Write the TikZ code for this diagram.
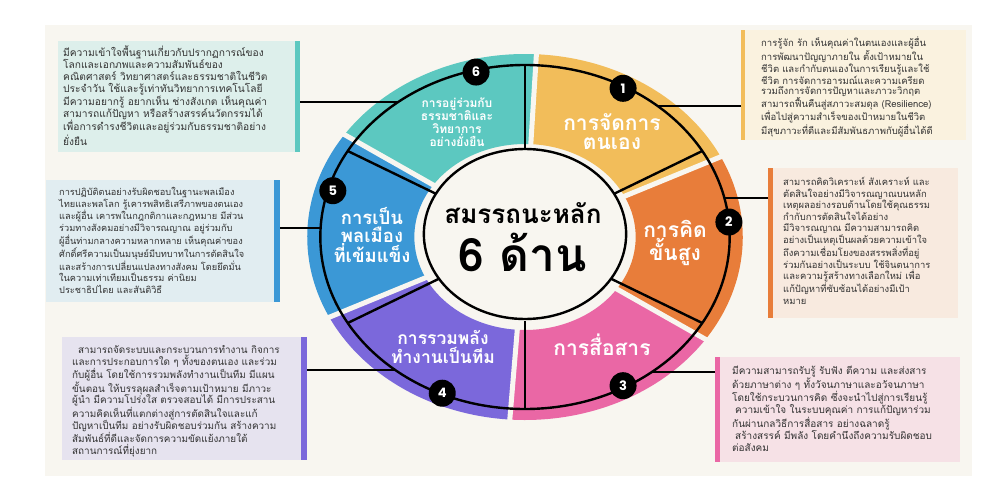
\documentclass[tikz,border=0pt]{standalone}
\usepackage{fontspec}
\newfontfamily\thai[Script=Thai]{Loma}
\newfontfamily\numfont{Poppins}
\definecolor{bgp}{HTML}{F8F6F0}
\definecolor{txtc}{HTML}{333333}
\definecolor{cteal}{HTML}{5CC8C0}
\definecolor{cyel}{HTML}{F2BD5A}
\definecolor{corg}{HTML}{E87D3A}
\definecolor{cpink}{HTML}{EA67A5}
\definecolor{cpur}{HTML}{7B68DB}
\definecolor{cblue}{HTML}{3B98D6}
\definecolor{lteal}{HTML}{DDEFEB}
\definecolor{lyel}{HTML}{FAF2DF}
\definecolor{lorg}{HTML}{F8EADF}
\definecolor{lpink}{HTML}{F6E1E6}
\definecolor{lpur}{HTML}{E6E3EF}
\definecolor{lblue}{HTML}{E1EDF1}
\begin{document}
\begin{tikzpicture}[x=1pt,y=-1pt,
  boxbg/.style={draw=none, inner sep=0, anchor=north west},
  boxtxt/.style={anchor=north west, inner sep=0, align=left, text=txtc},
  seglabel/.style={align=center, text=white, inner sep=0},
  blk/.style={draw=black, line width=2.4pt},
  conn/.style={draw=black, line width=1.8pt},
  gapline/.style={draw=bgp, line width=5pt},
  badge/.style={circle, fill=black, text=white, inner sep=0, minimum size=27pt, font=\numfont\bfseries\fontsize{13}{13}\selectfont}
]
\useasboundingbox (0,0) rectangle (1000,500);
\fill[white] (0,0) rectangle (1000,500);
\fill[bgp] (45,25) rectangle (972,476);

% ---------- text boxes ----------
\node[boxbg, fill=lteal, minimum width=242pt, minimum height=111pt] (b6) at (58,41) {};
\fill[cteal] (b6.north east) rectangle ([xshift=-5pt]b6.south east);
\node[boxbg, fill=lyel, minimum width=225pt, minimum height=110pt] (b1) at (741,30) {};
\fill[cyel] (b1.north west) rectangle ([xshift=4pt]b1.south west);
\node[boxbg, fill=lblue, minimum width=234pt, minimum height=122pt] (b5) at (46,180) {};
\fill[cblue] (b5.north east) rectangle ([xshift=-6pt]b5.south east);
\node[boxbg, fill=lorg, minimum width=190pt, minimum height=150pt] (b2) at (768,168) {};
\fill[corg] (b2.north west) rectangle ([xshift=5pt]b2.south west);
\node[boxbg, fill=lpur, minimum width=245pt, minimum height=123pt] (b4) at (62,337) {};
\fill[cpur] (b4.north east) rectangle ([xshift=-6pt]b4.south east);
\node[boxbg, fill=lpink, minimum width=245pt, minimum height=105pt] (b3) at (715,357) {};
\fill[cpink] (b3.north west) rectangle ([xshift=5pt]b3.south west);

\node[boxtxt, font=\thai\fontsize{10.2}{12}\selectfont] (t6) at (63,45) {มีความเข้าใจพื้นฐานเกี่ยวกับปรากฏการณ์ของ\\
โลกและเอกภพและความสัมพันธ์ของ\\
คณิตศาสตร์ วิทยาศาสตร์และธรรมชาติในชีวิต\\
ประจำวัน ใช้และรู้เท่าทันวิทยาการเทคโนโลยี\\
มีความอยากรู้ อยากเห็น ช่างสังเกต เห็นคุณค่า\\
สามารถแก้ปัญหา หรือสร้างสรรค์นวัตกรรมได้\\
เพื่อการดำรงชีวิตและอยู่ร่วมกับธรรมชาติอย่าง\\
ยั่งยืน};

\node[boxtxt, font=\thai\fontsize{9.5}{10.4}\selectfont] (t1) at (761,37) {การรู้จัก รัก เห็นคุณค่าในตนเองและผู้อื่น\\
การพัฒนาปัญญาภายใน ตั้งเป้าหมายใน\\
ชีวิต และกำกับตนเองในการเรียนรู้และใช้\\
ชีวิต การจัดการอารมณ์และความเครียด\\
รวมถึงการจัดการปัญหาและภาวะวิกฤต\\
สามารถฟื้นคืนสู่สภาวะสมดุล (Resilience)\\
เพื่อไปสู่ความสำเร็จของเป้าหมายในชีวิต\\
มีสุขภาวะที่ดีและมีสัมพันธภาพกับผู้อื่นได้ดี};

\node[boxtxt, font=\thai\fontsize{9.2}{11.6}\selectfont] (t5) at (59,187) {การปฏิบัติตนอย่างรับผิดชอบในฐานะพลเมือง\\
ไทยและพลโลก รู้เคารพสิทธิเสรีภาพของตนเอง\\
และผู้อื่น เคารพในกฎกติกาและกฎหมาย มีส่วน\\
ร่วมทางสังคมอย่างมีวิจารณญาณ อยู่ร่วมกับ\\
ผู้อื่นท่ามกลางความหลากหลาย เห็นคุณค่าของ\\
ศักดิ์ศรีความเป็นมนุษย์มีบทบาทในการตัดสินใจ\\
และสร้างการเปลี่ยนแปลงทางสังคม โดยยึดมั่น\\
ในความเท่าเทียมเป็นธรรม ค่านิยม\\
ประชาธิปไตย และสันติวิธี};

\node[boxtxt, font=\thai\fontsize{9.4}{11.6}\selectfont] (t2) at (783,177) {สามารถคิดวิเคราะห์ สังเคราะห์ และ\\
ตัดสินใจอย่างมีวิจารณญาณบนหลัก\\
เหตุผลอย่างรอบด้านโดยใช้คุณธรรม\\
กำกับการตัดสินใจได้อย่าง\\
มีวิจารณญาณ มีความสามารถคิด\\
อย่างเป็นเหตุเป็นผลด้วยความเข้าใจ\\
ถึงความเชื่อมโยงของสรรพสิ่งที่อยู่\\
ร่วมกันอย่างเป็นระบบ ใช้จินตนาการ\\
และความรู้สร้างทางเลือกใหม่ เพื่อ\\
แก้ปัญหาที่ซับซ้อนได้อย่างมีเป้า\\
หมาย};

\node[boxtxt, font=\thai\fontsize{9.9}{11.75}\selectfont] (t4) at (72,345) {\hspace*{6pt}สามารถจัดระบบและกระบวนการทำงาน กิจการ\\
และการประกอบการใด ๆ ทั้งของตนเอง และร่วม\\
กับผู้อื่น โดยใช้การรวมพลังทำงานเป็นทีม มีแผน\\
ขั้นตอน ให้บรรลุผลสำเร็จตามเป้าหมาย มีภาวะ\\
ผู้นำ มีความโปร่งใส ตรวจสอบได้ มีการประสาน\\
ความคิดเห็นที่แตกต่างสู่การตัดสินใจและแก้\\
ปัญหาเป็นทีม อย่างรับผิดชอบร่วมกัน สร้างความ\\
สัมพันธ์ที่ดีและจัดการความขัดแย้งภายใต้\\
สถานการณ์ที่ยุ่งยาก};

\node[boxtxt, font=\thai\fontsize{10}{11.8}\selectfont] (t3) at (732,366) {มีความสามารถรับรู้ รับฟัง ตีความ และส่งสาร\\
ด้วยภาษาต่าง ๆ ทั้งวัจนภาษาและอวัจนภาษา\\
โดยใช้กระบวนการคิด ซึ่งจะนำไปสู่การเรียนรู้\\
\hspace*{3pt}ความเข้าใจ ในระบบคุณค่า การแก้ปัญหาร่วม\\
กันผ่านกลวิธีการสื่อสาร อย่างฉลาดรู้\\
\hspace*{3pt}สร้างสรรค์ มีพลัง โดยคำนึงถึงความรับผิดชอบ\\
ต่อสังคม};

% ---------- wheel ----------
\begin{scope}[shift={(525,237)}, xscale=1.19]
  \foreach \a/\b/\c in {-87/-26/cyel, -26/34/corg, 34/94/cpink, 94/154/cpur, 154/214/cblue, 214/273/cteal}{
    \fill[\c] (\a:93) arc[start angle=\a, end angle=\b, radius=93] -- (\b:183)
      arc[start angle=\b, end angle=\a, radius=183] -- cycle;
  }
  \foreach \a in {-87,-26,34,94,154,214}{
    \draw[gapline] (\a:92) -- (\a:186);
  }
  \coordinate (e6) at (231.7:172);
  \coordinate (e1) at (-49.6:172);
  \coordinate (e5) at (183:172);
  \coordinate (e2) at (-13.1:172);
  \coordinate (e4) at (129.4:172);
  \coordinate (e3) at (51.7:172);
  \draw[blk] (0,0) circle[radius=172];
  \foreach \a in {-90,-30,30,90,150,210}{
    \draw[blk] (\a:84) -- (\a:172);
  }
  \filldraw[fill=bgp, draw=black, line width=2.4pt] (0,-3) circle[radius=85];
  \node[badge] (n6) at (-104:170) {6};
  \node[badge] (n1) at (-61:170) {1};
  \node[badge] (n2) at (-5:172) {2};
  \node[badge] (n3) at (61:170) {3};
  \node[badge] (n4) at (114:171) {4};
  \node[badge] (n5) at (196:168) {5};
\end{scope}

% ---------- connectors ----------
\draw[conn] (b6.east |- e6) -- (e6);
\draw[conn] (b1.west |- e1) -- (e1);
\draw[conn] (b5.east |- e5) -- (e5);
\draw[conn] (b2.west |- e2) -- (e2);
\draw[conn] (b4.east |- e4) -- (e4);
\draw[conn] (b3.west |- e3) -- (e3);

% ---------- labels ----------
\node[seglabel, font=\thai\bfseries\fontsize{21}{19}\selectfont] (l1) at (612,132) {การจัดการ\\ตนเอง};
\node[seglabel, font=\thai\bfseries\fontsize{21}{20}\selectfont] (l2) at (675,243) {การคิด\\ขั้นสูง};
\node[seglabel, font=\thai\bfseries\fontsize{21}{20}\selectfont] (l3) at (602,345) {การสื่อสาร};
\node[seglabel, font=\thai\bfseries\fontsize{17.5}{19}\selectfont] (l4) at (443,347) {การรวมพลัง\\ทำงานเป็นทีม};
\node[seglabel, font=\thai\bfseries\fontsize{18.5}{18.5}\selectfont] (l5) at (372,235) {การเป็น\\พลเมือง\\ที่เข้มแข็ง};
\node[seglabel, font=\thai\bfseries\fontsize{12}{12.3}\selectfont] (l6) at (457,122) {การอยู่ร่วมกับ\\ธรรมชาติและ\\วิทยาการ\\อย่างยั่งยืน};
\node[inner sep=0, font=\thai\bfseries\fontsize{26}{26}\selectfont] (c1) at (523,213) {สมรรถนะหลัก};
\node[inner sep=0, font=\thai\bfseries\fontsize{46}{46}\selectfont] (c2) at (523,252) {6 ด้าน};
\end{tikzpicture}
\end{document}
